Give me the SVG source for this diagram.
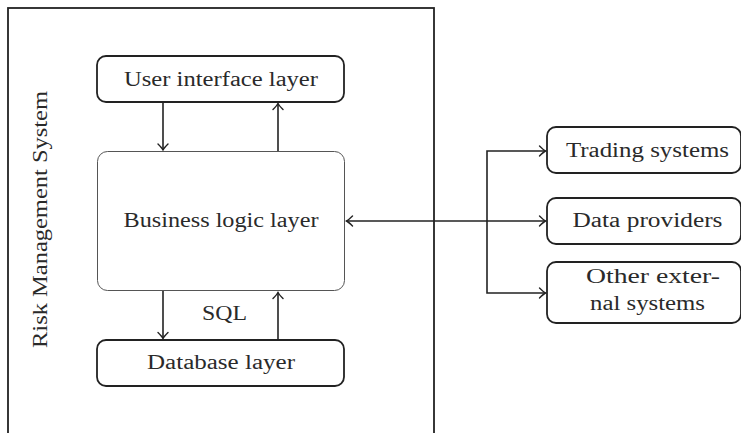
<svg xmlns="http://www.w3.org/2000/svg" width="741" height="433" viewBox="0 0 741 433">
<defs>
<marker id="ah" viewBox="-8 -6 10 12" markerWidth="10" markerHeight="12" refX="0" refY="0" orient="auto" markerUnits="userSpaceOnUse">
<path d="M-6,-5 Q-2,-1 0,0 Q-2,1 -6,5" fill="none" stroke="#222" stroke-width="1.4" stroke-linecap="round"/>
</marker>
<style>
.box{fill:#fff;stroke:#222;stroke-width:1.8}
.thin{fill:#fff;stroke:#555;stroke-width:1}
.t{font-family:"Liberation Serif","DejaVu Serif",serif;font-size:20px;fill:#2a2a2a;text-anchor:middle}
.c{fill:none;stroke:#222;stroke-width:1.6}
</style>
</defs>
<rect width="741" height="433" fill="#fff"/>
<g id="system">
<rect x="8" y="8" width="426" height="440" fill="none" stroke="#222" stroke-width="1.8"/>
<text class="t" transform="translate(47,219.5) rotate(-90)" textLength="257" lengthAdjust="spacingAndGlyphs">Risk Management System</text>
</g>
<g id="ui">
<rect class="box" x="97" y="56" width="247" height="46" rx="9"/>
<text class="t" x="221" y="86" textLength="194" lengthAdjust="spacingAndGlyphs">User interface layer</text>
</g>
<g id="business">
<rect class="thin" x="97.5" y="151.5" width="247" height="139" rx="10"/>
<text class="t" x="221" y="227" textLength="195" lengthAdjust="spacingAndGlyphs">Business logic layer</text>
</g>
<g id="database">
<rect class="box" x="97" y="340" width="247" height="46" rx="9"/>
<text class="t" x="221" y="369" textLength="148" lengthAdjust="spacingAndGlyphs">Database layer</text>
</g>
<g id="trading">
<rect class="box" x="547" y="127" width="194" height="46" rx="9"/>
<text class="t" x="647.5" y="157" textLength="163" lengthAdjust="spacingAndGlyphs">Trading systems</text>
</g>
<g id="data">
<rect class="box" x="547" y="198" width="194" height="46" rx="9"/>
<text class="t" x="647.5" y="227" textLength="150" lengthAdjust="spacingAndGlyphs">Data providers</text>
</g>
<g id="other">
<rect class="box" x="547" y="262" width="194" height="61" rx="9"/>
<text class="t" x="653" y="283" textLength="134" lengthAdjust="spacingAndGlyphs">Other exter-</text>
<text class="t" x="647.5" y="310" textLength="115" lengthAdjust="spacingAndGlyphs">nal systems</text>
</g>
<g id="connectors">
<line class="c" x1="163" y1="102" x2="163" y2="150" marker-end="url(#ah)"/>
<line class="c" x1="278" y1="151" x2="278" y2="103.5" marker-end="url(#ah)"/>
<line class="c" x1="163" y1="291" x2="163" y2="338.5" marker-end="url(#ah)"/>
<line class="c" x1="278" y1="340" x2="278" y2="292.5" marker-end="url(#ah)"/>
<text class="t" x="224.5" y="320" textLength="45" lengthAdjust="spacingAndGlyphs">SQL</text>
<line class="c" x1="487" y1="221" x2="346.5" y2="221" marker-end="url(#ah)" stroke-width="2.2"/>
<polyline class="c" points="487,221 487,151 545.5,151" marker-end="url(#ah)"/>
<line class="c" x1="487" y1="221" x2="545.5" y2="221" marker-end="url(#ah)"/>
<polyline class="c" points="487,221 487,293 545.5,293" marker-end="url(#ah)"/>
</g>
</svg>
